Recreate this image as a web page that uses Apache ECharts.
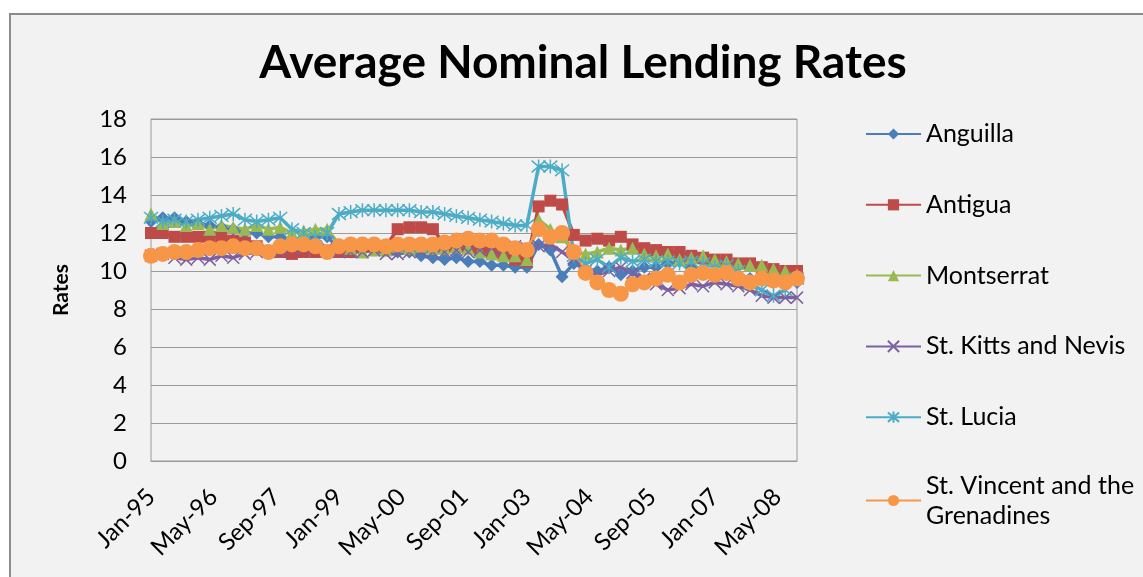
<!DOCTYPE html>
<html>
<head>
<meta charset="utf-8">
<title>Average Nominal Lending Rates</title>
<script src="https://cdn.jsdelivr.net/npm/echarts@6/dist/echarts.min.js"></script>
<style>
  html, body { margin: 0; padding: 0; background: #fff; overflow: hidden; }
  #frame {
    position: absolute; left: 9px; top: 13px; width: 1200px; height: 620px;
    background: #f2f2f2; border: 2px solid #8c8c8c; box-sizing: border-box;
  }
  #chart { position: absolute; left: 0; top: 0; width: 1143px; height: 577px; }
</style>
</head>
<body>
<div id="frame"></div>
<div id="chart"></div>
<script>
// quarterly observations, Jan-95 .. Oct-08
const quarters = [
  'Jan-95', 'Apr-95', 'Jul-95', 'Oct-95', 'Jan-96', 'Apr-96', 'Jul-96', 'Oct-96',
  'Jan-97', 'Apr-97', 'Jul-97', 'Oct-97', 'Jan-98', 'Apr-98', 'Jul-98', 'Oct-98',
  'Jan-99', 'Apr-99', 'Jul-99', 'Oct-99', 'Jan-00', 'Apr-00', 'Jul-00', 'Oct-00',
  'Jan-01', 'Apr-01', 'Jul-01', 'Oct-01', 'Jan-02', 'Apr-02', 'Jul-02', 'Oct-02',
  'Jan-03', 'Apr-03', 'Jul-03', 'Oct-03', 'Jan-04', 'Apr-04', 'Jul-04', 'Oct-04',
  'Jan-05', 'Apr-05', 'Jul-05', 'Oct-05', 'Jan-06', 'Apr-06', 'Jul-06', 'Oct-06',
  'Jan-07', 'Apr-07', 'Jul-07', 'Oct-07', 'Jan-08', 'Apr-08', 'Jul-08', 'Oct-08'
]

// x axis labels every 16 months
const xTickLabels = [
  'Jan-95', 'May-96', 'Sep-97', 'Jan-99', 'May-00', 'Sep-01',
  'Jan-03', 'May-04', 'Sep-05', 'Jan-07', 'May-08'
]

const anguilla = [
  12.6, 12.8, 12.8, 12.6, 12.5, 12.4, 12.3, 12.2, 12.0, 12.0, 11.8, 11.8, 11.6, 11.6,
  11.8, 11.8, 11.2, 11.0, 11.2, 11.1, 11.1, 11.0, 11.0, 10.8, 10.7, 10.6, 10.7, 10.5,
  10.5, 10.3, 10.3, 10.2, 10.2, 11.4, 11.1, 9.7, 10.4, 10.1, 10.0, 10.2, 9.8, 10.0,
  10.2, 10.2, 10.4, 10.5, 10.2, 10.0, 9.9, 9.8, 9.8, 9.6, 9.5, 9.4, 9.4, 9.4
]
const antigua = [
  12.0, 12.0, 11.8, 11.8, 11.8, 11.8, 11.8, 11.6, 11.5, 11.3, 11.0, 11.0, 10.9, 11.0,
  11.0, 11.0, 11.0, 11.0, 11.3, 11.3, 11.3, 12.2, 12.3, 12.3, 12.2, 11.4, 11.3, 11.2,
  11.2, 11.0, 10.9, 10.6, 10.5, 13.4, 13.7, 13.5, 11.9, 11.6, 11.7, 11.6, 11.8, 11.4,
  11.2, 11.1, 11.0, 11.0, 10.8, 10.7, 10.6, 10.6, 10.4, 10.4, 10.2, 10.1, 10.0, 10.0
]
const montserrat = [
  13.0, 12.5, 12.6, 12.4, 12.5, 12.2, 12.4, 12.3, 12.2, 12.4, 12.2, 12.3, 12.0, 12.1,
  12.2, 12.2, 11.4, 11.2, 11.0, 11.1, 11.1, 11.3, 11.2, 11.3, 11.2, 11.2, 11.3, 11.2,
  11.0, 10.9, 10.8, 10.8, 10.6, 12.7, 12.2, 11.8, 11.0, 10.9, 11.0, 11.2, 11.1, 11.2,
  10.9, 10.8, 10.9, 10.6, 10.7, 10.8, 10.6, 10.5, 10.4, 10.3, 10.3, 10.1, 10.0, 9.8
]
const stKitts = [
  10.8, 10.9, 10.7, 10.6, 10.7, 10.6, 10.8, 10.7, 10.9, 11.0, 11.1, 11.0, 11.2, 11.2,
  11.3, 11.2, 11.0, 11.0, 11.0, 11.1, 10.9, 10.9, 11.0, 11.0, 11.0, 11.0, 11.1, 11.0,
  11.1, 11.2, 11.2, 11.3, 11.2, 11.3, 11.4, 11.0, 10.6, 10.0, 9.8, 10.0, 10.2, 9.9,
  9.6, 9.3, 9.0, 9.1, 9.3, 9.2, 9.4, 9.3, 9.2, 9.0, 8.7, 8.6, 8.6, 8.6
]
const stLucia = [
  12.8, 12.6, 12.7, 12.6, 12.7, 12.8, 12.9, 13.0, 12.7, 12.6, 12.7, 12.8, 12.2, 12.0,
  11.8, 12.0, 13.0, 13.1, 13.2, 13.2, 13.2, 13.2, 13.2, 13.1, 13.1, 13.0, 12.9, 12.8,
  12.7, 12.6, 12.5, 12.4, 12.4, 15.5, 15.5, 15.3, 10.8, 10.4, 10.6, 10.2, 10.7, 10.5,
  10.6, 10.5, 10.5, 10.4, 10.5, 10.4, 10.2, 10.3, 10.0, 9.3, 9.0, 8.7, 9.0, 9.6
]
const stVincent = [
  10.8, 10.9, 11.0, 11.0, 11.1, 11.2, 11.2, 11.3, 11.2, 11.2, 11.0, 11.3, 11.4, 11.4,
  11.3, 11.0, 11.3, 11.4, 11.4, 11.4, 11.3, 11.4, 11.4, 11.4, 11.4, 11.5, 11.6, 11.7,
  11.6, 11.6, 11.4, 11.2, 11.1, 12.2, 11.8, 12.0, 11.0, 9.9, 9.4, 9.0, 8.8, 9.3,
  9.4, 9.6, 9.8, 9.4, 9.8, 9.9, 9.8, 9.9, 9.6, 9.4, 9.6, 9.5, 9.4, 9.6
]

const FONT = 'Lato'
const CROSS = 'path://M0,0L10,10M10,0L0,10'
const STAR = 'path://M0,0L10,10M10,0L0,10M5,-1L5,11'
const LONG_NAME = 'St. Vincent and the Grenadines'

const SERIES = [
  { name: 'Anguilla', data: anguilla, color: '#4a7ebb', symbol: 'diamond', size: 13 },
  { name: 'Antigua', data: antigua, color: '#be4b48', symbol: 'rect', size: 12 },
  { name: 'Montserrat', data: montserrat, color: '#98b954', symbol: 'triangle', size: 13 },
  { name: 'St. Kitts and Nevis', data: stKitts, color: '#7d60a0', symbol: CROSS, size: 12, stroke: true },
  { name: 'St. Lucia', data: stLucia, color: '#4bacc6', symbol: STAR, size: 14, stroke: true },
  { name: LONG_NAME, data: stVincent, color: '#f79646', symbol: 'circle', size: 16 }
]

const chart = echarts.init(document.getElementById('chart'))

const series = SERIES.map(s => ({
  type: 'line',
  name: s.name,
  // quarter index -> months since Jan-95
  data: s.data.map((v, i) => [i * 3, v]),
  symbol: s.symbol,
  symbolSize: s.size,
  showAllSymbol: true,
  lineStyle: { color: s.color, width: 3.5 },
  itemStyle: s.stroke
    ? { color: s.color, borderColor: s.color, borderWidth: 1.5 }
    : { color: s.color, borderWidth: 0 },
  emphasis: { disabled: true }
}))

chart.setOption({
  animation: false,
  backgroundColor: 'transparent',
  textStyle: { fontFamily: FONT },
  title: {
    text: 'Average Nominal Lending Rates',
    left: 578,
    textAlign: 'center',
    top: 35,
    textStyle: { fontFamily: FONT, fontSize: 46, fontWeight: 'bold', color: '#000' }
  },
  legend: {
    orient: 'vertical',
    left: 860,
    top: 114,
    height: 450,
    itemWidth: 55,
    itemHeight: 14,
    itemGap: 40.8,
    formatter: name => (name === LONG_NAME ? 'St. Vincent and the\nGrenadines' : name),
    textStyle: { fontFamily: FONT, fontSize: 25, color: '#000', lineHeight: 30 },
    // keep the icon on the first line of the wrapped name
    data: SERIES.map(s => s.name === LONG_NAME
      ? { name: s.name, textStyle: { padding: [0, 0, -30, 0] } }
      : { name: s.name })
  },
  grid: {
    left: 151,
    right: 346,
    top: 119,
    bottom: 116,
    show: true,
    borderColor: '#9a9a9a',
    borderWidth: 1,
    backgroundColor: 'transparent'
  },
  xAxis: {
    type: 'value',
    min: 0,
    max: 165,
    interval: 16,
    splitLine: { show: false },
    axisLine: { show: true, lineStyle: { color: '#9a9a9a', width: 1 } },
    axisTick: { show: false },
    axisLabel: {
      rotate: 45,
      margin: 32,
      fontSize: 24,
      color: '#000',
      fontFamily: FONT,
      formatter: v => (v % 16 === 0 ? xTickLabels[v / 16] || '' : '')
    }
  },
  yAxis: {
    type: 'value',
    min: 0,
    max: 18,
    interval: 2,
    name: 'Rates',
    nameLocation: 'middle',
    nameGap: 79,
    nameTextStyle: { fontFamily: FONT, fontSize: 21, fontWeight: 'bold', color: '#000' },
    axisLine: { show: false },
    axisTick: { show: false },
    axisLabel: { fontSize: 24, color: '#000', margin: 24, fontFamily: FONT },
    splitLine: { lineStyle: { color: '#9a9a9a', width: 1 } }
  },
  series
})
</script>
</body>
</html>
